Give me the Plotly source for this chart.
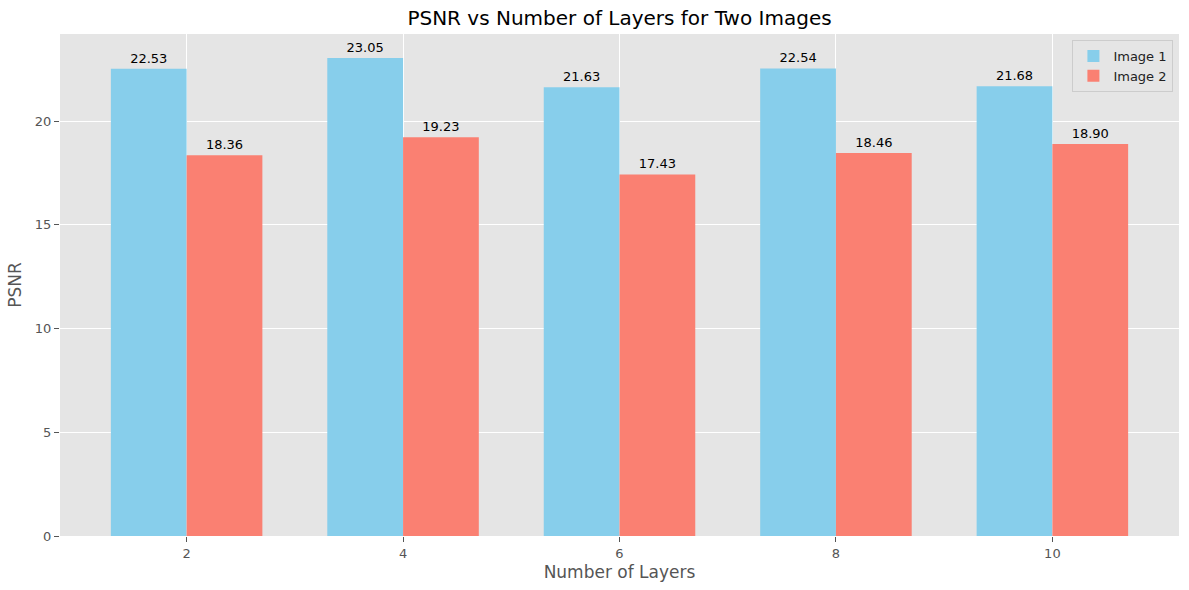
import plotly.graph_objects as go

layers = [2, 4, 6, 8, 10]
psnr_image1 = [22.53, 23.05, 21.63, 22.54, 21.68]
psnr_image2 = [18.36, 19.23, 17.43, 18.46, 18.90]
series_names = ["Image 1", "Image 2"]
colors = ["#87CEEB", "#FA8072"]
y_ticks = [0, 5, 10, 15, 20]

idx = list(range(len(layers)))
width = 0.35
font = "DejaVu Sans"

fig = go.Figure()
for k, (name, vals, col) in enumerate(zip(series_names, [psnr_image1, psnr_image2], colors)):
    off = (k - 0.5) * width
    fig.add_trace(go.Bar(
        x=[i + off for i in idx], y=vals, width=width, name=name,
        marker=dict(color=col, line=dict(width=0)),
        text=[f"{v:.2f}" for v in vals], textposition="outside",
        textfont=dict(family=font, size=13, color="black"),
        cliponaxis=False,
    ))

ymax = max(psnr_image1 + psnr_image2) * 1.05
fig.update_layout(
    width=1189, height=590,
    margin=dict(l=60, r=10, t=34, b=54, autoexpand=False),
    paper_bgcolor="white", plot_bgcolor="#E5E5E5",
    font=dict(family=font, color="#555555", size=13),
    title=dict(text="PSNR vs Number of Layers for Two Images", x=0.5, xref="paper",
               y=1 - 18 / 590, yanchor="middle", font=dict(size=20, color="black")),
    barmode="overlay",
    legend=dict(x=0.995, y=0.988, xanchor="right", yanchor="top",
                bgcolor="#E5E5E5", bordercolor="#CCCCCC", borderwidth=1,
                font=dict(size=13, color="#222222")),
    xaxis=dict(tickmode="array", tickvals=idx, ticktext=[str(l) for l in layers],
               range=[-0.585, len(layers) - 1 + 0.585], showgrid=True, gridcolor="white",
               gridwidth=1, zeroline=False, ticks="outside", ticklen=5, tickcolor="#555555",
               title=dict(text="Number of Layers", font=dict(size=17, color="#555555"), standoff=6)),
    yaxis=dict(range=[0, ymax], tickvals=y_ticks, showgrid=True, gridcolor="white",
               gridwidth=1, zeroline=False, ticks="outside", ticklen=5, tickcolor="#555555",
               title=dict(text="PSNR", font=dict(size=17, color="#555555"), standoff=8)),
)
fig.write_html("out.html", config={"displayModeBar": False},
               post_script="document.body.style.margin='0';document.body.style.overflow='hidden';")
